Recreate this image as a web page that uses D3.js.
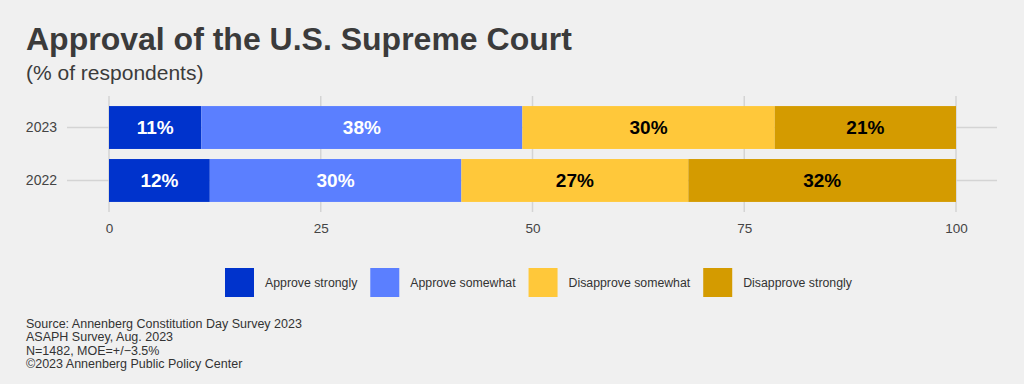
<!DOCTYPE html>
<html>
<head>
<meta charset="utf-8">
<script src="https://cdn.jsdelivr.net/npm/d3@7"></script>
<style>
  body { margin: 0; background: #f0f0f0; }
  svg { display: block; font-family: "Liberation Sans", Arial, sans-serif; }
</style>
</head>
<body>
<svg id="chart" width="1024" height="384"></svg>
<script>
// data
var years = ["2023", "2022"];
var categories = ["Approve strongly", "Approve somewhat", "Disapprove somewhat", "Disapprove strongly"];
var values2023 = [10.9, 37.9, 29.8, 21.4];
var values2022 = [11.9, 29.7, 26.8, 31.6];
var xTicks = [0, 25, 50, 75, 100];
var colors = ["#0033cc", "#5b7fff", "#ffc83a", "#d49b00"];
var labelColors = ["#ffffff", "#ffffff", "#000000", "#000000"];
var footLines = [
  "Source: Annenberg Constitution Day Survey 2023",
  "ASAPH Survey, Aug. 2023",
  "N=1482, MOE=+/\u22123.5%",
  "\u00a92023 Annenberg Public Policy Center"
];

var svg = d3.select("#chart");

var rows = years.map(function (y, i) {
  var vals = i === 0 ? values2023 : values2022;
  var row = {year: y};
  categories.forEach(function (c, j) { row[c] = vals[j]; });
  return row;
});

var stack = d3.stack().keys(categories)(rows);

var x = d3.scaleLinear().domain([0, 100]).range([109, 956]);
var y = d3.scaleBand().domain(years).range([96, 212]).padding(0.19);
var color = d3.scaleOrdinal().domain(categories).range(colors);

// title
svg.append("text")
  .attr("x", 26).attr("y", 50)
  .style("font-size", "32px").style("font-weight", "bold")
  .style("fill", "#3b3b3b")
  .text("Approval of the U.S. Supreme Court");

svg.append("text")
  .attr("x", 26).attr("y", 80)
  .style("font-size", "21px")
  .style("fill", "#3b3b3b")
  .text("(% of respondents)");

// grid
var grid = svg.append("g");
grid.selectAll("line.v")
  .data(xTicks)
  .enter().append("line")
  .attr("x1", function (d) { return x(d); })
  .attr("x2", function (d) { return x(d); })
  .attr("y1", 96).attr("y2", 212)
  .style("stroke", "#d4d4d4").style("stroke-width", 1.5);

grid.selectAll("line.h")
  .data(years)
  .enter().append("line")
  .attr("x1", 67).attr("x2", 997)
  .attr("y1", function (d) { return y(d) + y.bandwidth() / 2; })
  .attr("y2", function (d) { return y(d) + y.bandwidth() / 2; })
  .style("stroke", "#d4d4d4").style("stroke-width", 1.5);

// bars
var layers = svg.selectAll("g.layer")
  .data(stack)
  .enter().append("g")
  .attr("class", "layer")
  .style("fill", function (d) { return color(d.key); });

layers.selectAll("rect")
  .data(function (d) { return d; })
  .enter().append("rect")
  .attr("x", function (d) { return x(d[0]); })
  .attr("width", function (d) { return x(d[1]) - x(d[0]); })
  .attr("y", function (d) { return y(d.data.year); })
  .attr("height", y.bandwidth());

layers.selectAll("text")
  .data(function (d, i) { return d.map(function (p) { return {p: p, i: i}; }); })
  .enter().append("text")
  .attr("x", function (d) { return (x(d.p[0]) + x(d.p[1])) / 2; })
  .attr("y", function (d) { return y(d.p.data.year) + y.bandwidth() / 2; })
  .attr("dy", "0.36em")
  .attr("text-anchor", "middle")
  .style("font-size", "19px").style("font-weight", "bold")
  .style("fill", function (d) { return labelColors[d.i]; })
  .text(function (d) { return Math.round(d.p[1] - d.p[0]) + "%"; });

// axes
var xAxis = svg.append("g")
  .attr("transform", "translate(0,212)")
  .call(d3.axisBottom(x).tickValues(xTicks).tickSize(0).tickPadding(11));
xAxis.select(".domain").remove();
xAxis.selectAll("text").style("font-size", "13.5px").style("fill", "#444")
  .style("font-family", "Liberation Sans, Arial, sans-serif");

var yAxis = svg.append("g")
  .attr("transform", "translate(67,0)")
  .call(d3.axisLeft(y).tickSize(0).tickPadding(10));
yAxis.select(".domain").remove();
yAxis.selectAll("text").style("font-size", "14px").style("fill", "#444")
  .style("font-family", "Liberation Sans, Arial, sans-serif");

// legend
var legend = svg.append("g").attr("transform", "translate(225,268)");
var lx = 0;
categories.forEach(function (c) {
  var item = legend.append("g").attr("transform", "translate(" + lx + ",0)");
  item.append("rect").attr("width", 29).attr("height", 29).style("fill", color(c));
  var t = item.append("text")
    .attr("x", 40).attr("y", 15).attr("dy", "0.35em")
    .style("font-size", "12.3px").style("fill", "#333")
    .text(c);
  lx += 40 + t.node().getComputedTextLength() + 13;
});

// footer
svg.append("g").selectAll("text")
  .data(footLines)
  .enter().append("text")
  .attr("x", 26)
  .attr("y", function (d, i) { return 328 + i * 13.3; })
  .style("font-size", "12.5px").style("fill", "#333")
  .text(function (d) { return d; });
</script>
</body>
</html>
